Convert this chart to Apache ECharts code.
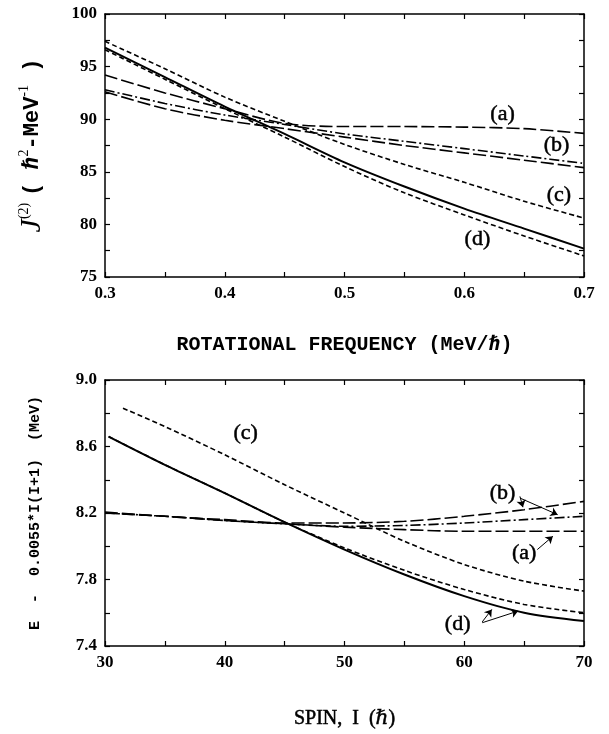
<!DOCTYPE html>
<html><head><meta charset="utf-8">
<script src="https://cdn.jsdelivr.net/npm/echarts@6/dist/echarts.min.js"></script>
<style>html,body{margin:0;background:#fff}#c{width:609px;height:734px}</style>
</head><body><div id="c"></div>
<script>
// ---- top panel: J(2) vs rotational frequency ----
const omega = [0.30, 0.35, 0.40, 0.45, 0.50, 0.55, 0.60, 0.65, 0.70];
const topA  = [94.2, 92.5, 91.0, 89.6, 89.3, 89.3, 89.25, 89.1, 88.65];
const topB1 = [92.8, 91.5, 90.4, 89.5, 88.6, 87.9, 87.2, 86.5, 85.8];   // dash-dot
const topB2 = [92.6, 91.0, 89.9, 89.1, 88.3, 87.5, 86.8, 86.1, 85.4];   // long dash
const topC  = [97.4, 94.8, 92.1, 89.8, 87.6, 85.7, 84.0, 82.2, 80.6];
const topD1 = [96.8, 94.0, 91.2, 88.6, 85.9, 83.6, 81.5, 79.6, 77.7];   // solid
const topD2 = [96.6, 93.8, 91.0, 88.3, 85.5, 83.0, 80.9, 78.9, 77.0];   // short dash
const topLabels = [[0.632, 90.5, '(a)'], [0.677, 87.55, '(b)'], [0.679, 82.75, '(c)'], [0.611, 78.6, '(d)']];

// ---- bottom panel: E - 0.0055 I(I+1) vs spin ----
const spin  = [30, 35, 40, 45, 50, 55, 60, 65, 70];
const botA  = [8.20, 8.18, 8.155, 8.135, 8.115, 8.10, 8.09, 8.09, 8.09];
const botB1 = [8.205, 8.18, 8.16, 8.14, 8.14, 8.15, 8.18, 8.22, 8.27]; // long dash
const botB2 = [8.20, 8.18, 8.155, 8.135, 8.12, 8.125, 8.14, 8.16, 8.18]; // dash-dot
const spinC = [31.5, 35, 40, 45, 50, 55, 60, 65, 70];
const botC  = [8.83, 8.72, 8.55, 8.37, 8.20, 8.03, 7.89, 7.79, 7.73];
const spinD = [30.3, 35, 40, 45, 50, 55, 60, 65, 70];
const botD1 = [8.66, 8.49, 8.32, 8.145, 7.98, 7.83, 7.70, 7.60, 7.55];  // solid
const botD2 = [8.66, 8.49, 8.32, 8.145, 7.99, 7.855, 7.74, 7.65, 7.60]; // short dash
const botLabels = [[41.75, 8.68, '(c)'], [63.2, 8.32, '(b)'], [65.0, 7.956, '(a)'], [59.45, 7.53, '(d)']];
const botArrows = [
  [[64.65, 8.30], [64.9, 8.235]],
  [[64.65, 8.29], [67.8, 8.19]],
  [[66.1, 7.98], [67.4, 8.06]],
  [[61.5, 7.545], [62.3, 7.62]],
  [[61.5, 7.54], [64.5, 7.61]]
];

const SERIF = "'Liberation Serif','DejaVu Serif',serif";
const MONO = "'Liberation Mono','DejaVu Sans Mono',monospace";
const SHORT = [5, 3], LONG = [13, 4], DASHDOT = [10, 3, 2, 3];

function axisCommon(min, max, interval, labelStep, digits, show) {
  return {
    type: 'value', min, max, interval,
    axisLine: {show: true, onZero: false, lineStyle: {color: '#000', width: 1.5}},
    axisTick: {show: true, inside: true, length: 5, lineStyle: {color: '#000', width: 1.2}},
    splitLine: {show: false},
    axisLabel: {
      show, color: '#000', fontFamily: SERIF, fontSize: 17, fontWeight: 'bold',
      formatter: v => {
        const k = Math.round((v - min) / interval);
        return k % labelStep === 0 ? v.toFixed(digits) : '';
      }
    }
  };
}

function line(xs, ys, xi, yi, type, width) {
  return {
    type: 'line', xAxisIndex: xi, yAxisIndex: yi, data: xs.map((v, i) => [v, ys[i]]),
    smooth: 0.3, symbol: 'none', silent: true,
    lineStyle: {color: '#000', width, type}
  };
}

function labelSeries(arr, xi, yi) {
  return {
    type: 'scatter', xAxisIndex: xi, yAxisIndex: yi, symbolSize: 1, silent: true,
    itemStyle: {opacity: 0},
    data: arr.map(d => ({value: [d[0], d[1]], name: d[2]})),
    label: {show: true, position: 'inside', formatter: p => p.name, color: '#000', opacity: 1,
      textBorderColor: '#000', textBorderWidth: 0.5, fontFamily: SERIF, fontSize: 22}
  };
}

const chart = echarts.init(document.getElementById('c'), null, {renderer: 'canvas'});
const option = {
  animation: false,
  backgroundColor: '#fff',
  grid: [
    {left: 105, right: 25, top: 14, height: 263},
    {left: 105, right: 25, top: 380, height: 266}
  ],
  xAxis: [
    Object.assign(axisCommon(0.3, 0.7, 0.05, 2, 1, true), {gridIndex: 0, position: 'bottom',
      name: 'ROTATIONAL FREQUENCY (MeV/\u210F)', nameLocation: 'middle', nameGap: 58,
      nameTextStyle: {color: '#000', fontFamily: MONO, fontSize: 20, fontWeight: 'bold'}}),
    Object.assign(axisCommon(0.3, 0.7, 0.05, 2, 1, false), {gridIndex: 0, position: 'top'}),
    Object.assign(axisCommon(30, 70, 5, 2, 0, true), {gridIndex: 1, position: 'bottom',
      name: 'SPIN,  I  (\u210F)', nameLocation: 'middle', nameGap: 63,
      nameTextStyle: {color: '#000', fontFamily: SERIF, fontSize: 20,
        textBorderColor: '#000', textBorderWidth: 0.5}}),
    Object.assign(axisCommon(30, 70, 5, 2, 0, false), {gridIndex: 1, position: 'top'})
  ],
  yAxis: [
    Object.assign(axisCommon(75, 100, 2.5, 2, 0, true), {gridIndex: 0, position: 'left',
      name: '{j|J}{s|(2)}  {m|( \u210F}{s|2}{m|-MeV}{s|-1}{m| )}', nameLocation: 'middle', nameGap: 58,
      nameTextStyle: {color: '#000', rich: {
        j: {fontFamily: SERIF, fontStyle: 'italic', fontSize: 30, color: '#000'},
        s: {fontFamily: SERIF, fontSize: 14, color: '#000', verticalAlign: 'top', lineHeight: 14},
        m: {fontFamily: MONO, fontWeight: 'bold', fontSize: 22, color: '#000'}
      }}}),
    Object.assign(axisCommon(75, 100, 2.5, 2, 0, false), {gridIndex: 0, position: 'right'}),
    Object.assign(axisCommon(7.4, 9.0, 0.2, 2, 1, true), {gridIndex: 1, position: 'left',
      name: 'E  -  0.0055*I(I+1)  (MeV)', nameLocation: 'middle', nameGap: 62,
      nameTextStyle: {color: '#000', fontFamily: MONO, fontSize: 15, fontWeight: 'bold'}}),
    Object.assign(axisCommon(7.4, 9.0, 0.2, 2, 1, false), {gridIndex: 1, position: 'right'})
  ],
  series: [
    line(omega, topA, 0, 0, LONG, 1.6),
    line(omega, topB1, 0, 0, DASHDOT, 1.6),
    line(omega, topB2, 0, 0, LONG, 1.6),
    line(omega, topC, 0, 0, SHORT, 1.6),
    line(omega, topD1, 0, 0, 'solid', 2),
    line(omega, topD2, 0, 0, SHORT, 1.6),
    labelSeries(topLabels, 0, 0),
    line(spin, botA, 2, 2, LONG, 1.6),
    line(spin, botB1, 2, 2, LONG, 1.6),
    line(spin, botB2, 2, 2, DASHDOT, 1.6),
    line(spinC, botC, 2, 2, SHORT, 1.6),
    line(spinD, botD1, 2, 2, 'solid', 2),
    Object.assign(line(spinD, botD2, 2, 2, SHORT, 1.6), {
      markLine: {
        silent: true, symbol: ['none', 'arrow'], symbolSize: 7, label: {show: false},
        lineStyle: {color: '#000', width: 1, type: 'solid'},
        data: botArrows.map(a => [{coord: a[0]}, {coord: a[1]}])
      }
    }),
    labelSeries(botLabels, 2, 2)
  ]
};
chart.setOption(option);
</script>
</body></html>
